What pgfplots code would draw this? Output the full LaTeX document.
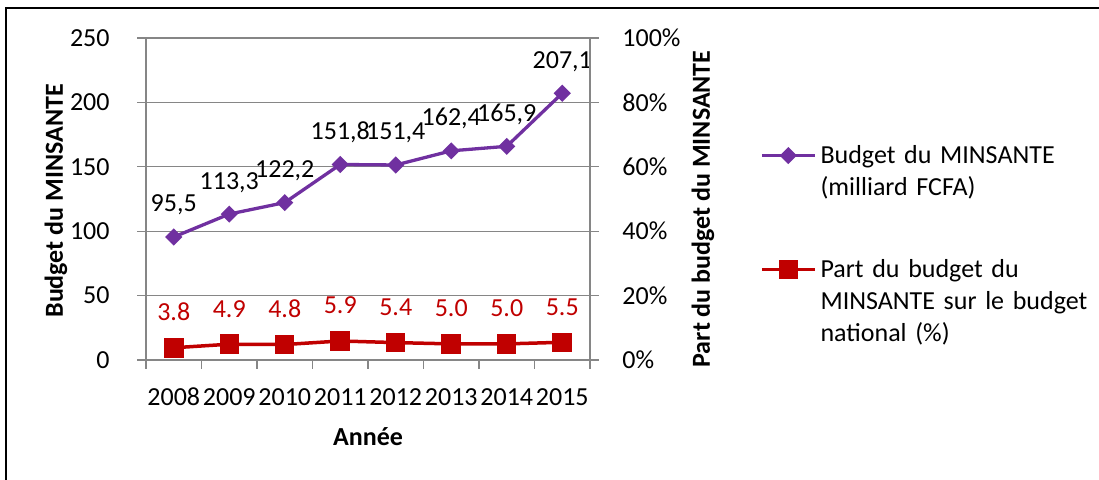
\documentclass[border=0pt]{standalone}
\usepackage{fontspec}
\setmainfont{Carlito}
\usepackage{pgfplots}
\pgfplotsset{compat=1.18}
\definecolor{mpurple}{HTML}{7030A0}
\definecolor{mred}{HTML}{C00000}
\definecolor{agray}{HTML}{868686}

\begin{document}
\begin{tikzpicture}[font=\fontsize{13}{16}\selectfont]
\useasboundingbox (0,0) rectangle (549.5pt,240pt);
\draw[line width=0.75pt] (3pt,-5pt) -- (3pt,236pt) -- (560pt,236pt);

\pgfplotsset{
  every axis/.append style={
    scale only axis, width=222pt, height=161pt,
    at={(73pt,60pt)}, anchor=south west,
    xmin=-0.5, xmax=7.5,
    tick align=outside,
    major tick length=4.5pt,
    axis line style={agray, line width=0.6pt},
    every tick/.style={agray, line width=0.6pt},
    /pgf/number format/assume math mode=true,
    clip=false,
    legend image code/.code={\draw[mark repeat=2,mark phase=2,##1] plot coordinates {(0pt,0pt) (13.25pt,0pt) (26.5pt,0pt)};},
  },
}

\begin{axis}[
  ymin=0, ymax=250, ytick={0,50,...,250},
  axis y line*=left, axis x line*=bottom,
  ymajorgrids, grid style={agray, line width=0.6pt},
  xtick={-0.5,0.5,...,7.5}, xticklabels={},
  extra x ticks={0,1,2,3,4,5,6,7},
  extra x tick labels={2008,2009,2010,2011,2012,2013,2014,2015},
  extra x tick style={major tick length=0pt, grid=none},
  yticklabel style={anchor=east, inner sep=0pt, xshift=-13.5pt},
  xticklabel style={anchor=base, inner sep=0pt, yshift=-23pt},
  ylabel={\bfseries Budget du MINSANTE},
  ylabel style={at={(rel axis cs:-0.187,0.494)}, anchor=base},
  xlabel={\bfseries Année},
  xlabel style={at={(rel axis cs:0.5,-0.264)}, anchor=base},
  nodes near coords, point meta=explicit symbolic,
  nodes near coords style={anchor=base, inner sep=0pt, yshift=12.5pt, text=black},
]
\addplot[mpurple, line width=1.65pt, mark=square*, mark size=2.2pt, mark options={solid, rotate=45}]
coordinates {(0,95.5) [95,5] (1,113.3) [113,3] (2,122.2) [122,2] (3,151.8) [151,8] (4,151.4) [151,4] (5,162.4) [162,4] (6,165.9) [165,9] (7,207.1) [207,1]};
\end{axis}

\begin{axis}[
  ymin=0, ymax=100, ytick={0,20,...,100},
  yticklabels={0\%,20\%,40\%,60\%,80\%,100\%},
  axis y line*=right, axis x line=none,
  yticklabel style={anchor=west, inner sep=0pt, xshift=11.5pt},
  ylabel={\bfseries Part du budget du MINSANTE},
  ylabel style={at={(rel axis cs:1.270,0.469)}, anchor=base},
  nodes near coords, point meta=explicit symbolic,
  nodes near coords style={anchor=base, inner sep=0pt, yshift=13.5pt, text=mred},
  legend style={at={(rel axis cs:1.383,0.677)}, anchor=north west, draw=none, fill=none,
    inner sep=0pt, outer sep=0pt, row sep=43.5pt,
    nodes={inner xsep=2pt, inner ysep=1.5pt, text width=140pt, align=left}},
  legend cell align=left,
]
\addlegendimage{mpurple, line width=1.65pt, mark=square*, mark size=2.2pt, mark options={solid, rotate=45}}
\addlegendentry{Budget du MINSANTE\\(milliard FCFA)}
\addplot[mred, line width=1.75pt, mark=square*, mark size=4pt, mark options={solid}]
coordinates {(0,3.8) [3.8] (1,4.9) [4.9] (2,4.8) [4.8] (3,5.9) [5.9] (4,5.4) [5.4] (5,5.0) [5.0] (6,5.0) [5.0] (7,5.5) [5.5]};
\addlegendentry{Part du budget du\\MINSANTE sur le budget\\national (\%)}
\end{axis}
\end{tikzpicture}
\end{document}
